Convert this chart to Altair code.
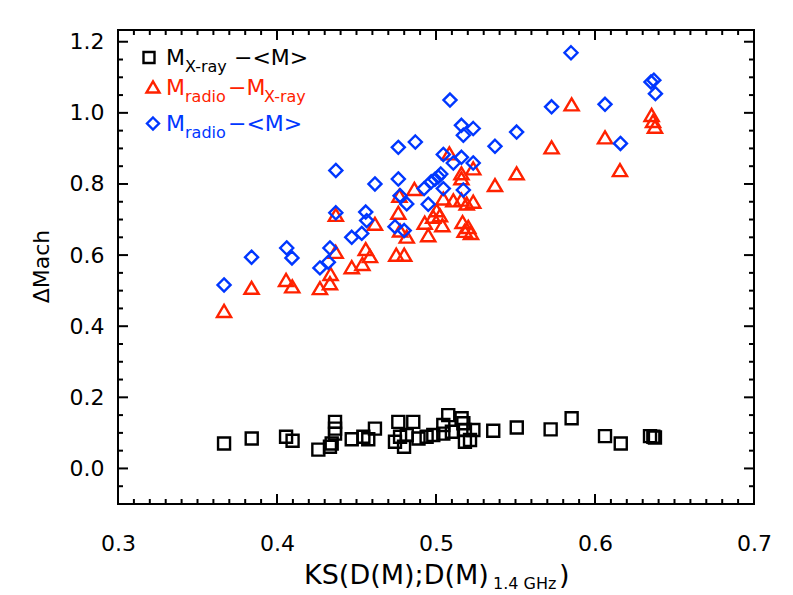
import altair as alt
import pandas as pd

# ---------------- data ----------------
sq_x = [0.3667, 0.3841, 0.4057, 0.4098, 0.4260, 0.4333, 0.4344, 0.4365, 0.4365, 0.4365,
        0.4470, 0.4543, 0.4574, 0.4616, 0.4742, 0.4763, 0.4774, 0.4799, 0.4816, 0.4857,
        0.4890, 0.4941, 0.4983, 0.5046, 0.5046, 0.5077, 0.5100, 0.5161, 0.5172, 0.5182,
        0.5214, 0.5235, 0.5182, 0.5360, 0.5508, 0.5721, 0.5853, 0.6063, 0.6162, 0.6346,
        0.6367, 0.6377]
sq_y = [0.070, 0.084, 0.089, 0.078, 0.053, 0.061, 0.070, 0.131, 0.112, 0.098,
        0.082, 0.089, 0.082, 0.112, 0.075, 0.131, 0.089, 0.061, 0.094, 0.131,
        0.084, 0.089, 0.094, 0.098, 0.122, 0.150, 0.103, 0.141, 0.127, 0.108,
        0.080, 0.108, 0.075, 0.106, 0.115, 0.110, 0.141, 0.091, 0.070, 0.091,
        0.089, 0.087]

tri_x = [0.3667, 0.3840, 0.4057, 0.4096, 0.4270, 0.4333, 0.4337, 0.4370, 0.4369, 0.4470,
         0.4537, 0.4558, 0.4585, 0.4616, 0.4750, 0.4800, 0.4763, 0.4770, 0.4774, 0.4816,
         0.4864, 0.5853, 0.6356, 0.6365, 0.6377, 0.6063, 0.6157, 0.5727, 0.5507, 0.5371,
         0.5084, 0.5234, 0.5160, 0.5160, 0.5046, 0.5109, 0.5160, 0.5193, 0.5234, 0.5004,
         0.5025, 0.4982, 0.4929, 0.5040, 0.5167, 0.5203, 0.4951, 0.5180, 0.5220]
tri_y = [0.443, 0.508, 0.530, 0.512, 0.507, 0.521, 0.547, 0.713, 0.609, 0.566,
         0.575, 0.617, 0.597, 0.688, 0.601, 0.601, 0.719, 0.767, 0.669, 0.652,
         0.786, 1.024, 0.994, 0.977, 0.961, 0.931, 0.839, 0.903, 0.830, 0.797,
         0.886, 0.844, 0.830, 0.816, 0.759, 0.754, 0.756, 0.745, 0.750, 0.726,
         0.712, 0.708, 0.691, 0.684, 0.693, 0.679, 0.656, 0.668, 0.662]

dia_x = [0.3667, 0.3840, 0.4061, 0.4094, 0.4270, 0.4323, 0.4333, 0.4370, 0.4370, 0.4470,
         0.4533, 0.4558, 0.4564, 0.4616, 0.4742, 0.4763, 0.4774, 0.4800, 0.4816, 0.5849,
         0.6352, 0.6370, 0.6380, 0.5727, 0.6063, 0.6160, 0.5507, 0.5371, 0.5088, 0.5160,
         0.5234, 0.5172, 0.5046, 0.5160, 0.5109, 0.5234, 0.4970, 0.4993, 0.5014, 0.5030,
         0.4925, 0.5046, 0.5172, 0.4951, 0.4870, 0.4763]
dia_y = [0.516, 0.594, 0.620, 0.592, 0.564, 0.580, 0.620, 0.838, 0.719, 0.650,
         0.661, 0.721, 0.697, 0.800, 0.680, 0.814, 0.767, 0.669, 0.744, 1.169,
         1.087, 1.092, 1.054, 1.017, 1.024, 0.914, 0.946, 0.906, 1.036, 0.965,
         0.956, 0.937, 0.883, 0.875, 0.859, 0.859, 0.806, 0.813, 0.820, 0.828,
         0.787, 0.787, 0.783, 0.743, 0.918, 0.903]

x_major = [0.3, 0.4, 0.5, 0.6, 0.7]
x_minor = [round(0.3 + 0.01 * i, 2) for i in range(1, 40) if i % 10 != 0]
y_major = [0.0, 0.2, 0.4, 0.6, 0.8, 1.0, 1.2]
y_minor = [-0.05, 0.05, 0.1, 0.15, 0.25, 0.3, 0.35, 0.45, 0.5, 0.55, 0.65, 0.7, 0.75,
           0.85, 0.9, 0.95, 1.05, 1.1, 1.15]

# ---------------- styling ----------------
W, H = 636, 474
FONT = "DejaVu Sans"
RED = "#FF2200"
BLUE = "#0037FF"
SQ = "M-1,-1L1,-1L1,1L-1,1Z"
TRI = "M-1,0.85L1,0.85L0,-0.85Z"
DIA = "M0,-1L1,0L0,1L-1,0Z"

xscale = alt.Scale(domain=[0.3, 0.7], nice=False, zero=False)
yscale = alt.Scale(domain=[-0.1, 1.233], nice=False, zero=False)

x_axis = alt.Axis(values=x_major, format=".1f", ticks=False, tickSize=0, domain=False,
                  grid=False, labelFont=FONT, labelFontSize=22, labelColor="black",
                  labelPadding=29, labelFlush=False, title=None)
y_axis = alt.Axis(values=y_major, format=".1f", ticks=False, tickSize=0, domain=False,
                  grid=False, labelFont=FONT, labelFontSize=22, labelColor="black",
                  labelPadding=14, title="ΔMach", titleFont=FONT, titleFontSize=22,
                  titleFontWeight="normal", titleColor="black", titleX=-77, titleY=236,
                  titleAngle=270, titleAlign="center", titleBaseline="middle")

X = lambda f: alt.X(f, scale=xscale, axis=x_axis)
Y = lambda f: alt.Y(f, scale=yscale, axis=y_axis)


def series(xs, ys, shape, color, size):
    df = pd.DataFrame({"x": xs, "y": ys})
    return alt.Chart(df).mark_point(shape=shape, filled=False, color=color,
                                    strokeWidth=2.4, size=size, opacity=1).encode(
        x=X("x:Q"), y=Y("y:Q"))


def xticks(vals, length, top):
    df = pd.DataFrame({"x": vals})
    y, y2 = (alt.value(0), alt.value(length)) if top else (alt.value(H), alt.value(H - length))
    return alt.Chart(df).mark_rule(color="black", strokeWidth=2).encode(
        x=X("x:Q"), y=y, y2=y2)


def yticks(vals, length, right):
    df = pd.DataFrame({"y": vals})
    x, x2 = (alt.value(W), alt.value(W - length)) if right else (alt.value(0), alt.value(length))
    return alt.Chart(df).mark_rule(color="black", strokeWidth=2).encode(
        y=Y("y:Q"), x=x, x2=x2)


one = pd.DataFrame({"a": [0]})


def txt(s, x, y, size, color="black"):
    return alt.Chart(one).mark_text(text=s, font=FONT, fontSize=size, color=color,
                                    align="left", baseline="alphabetic").encode(
        x=alt.value(x), y=alt.value(y))


def sym(shape, color, size, x, y):
    return alt.Chart(one).mark_point(shape=shape, filled=False, color=color,
                                     strokeWidth=2.4, size=size, opacity=1).encode(
        x=alt.value(x), y=alt.value(y))


OX, OY = 118, 30  # plot origin in page pixels (for annotation placement)

layers = [
    series(sq_x, sq_y, SQ, "black", 144),
    series(tri_x, tri_y, TRI, RED, 200),
    series(dia_x, dia_y, DIA, BLUE, 170),
    xticks(x_major, 10, False), xticks(x_major, 10, True),
    xticks(x_minor, 5, False), xticks(x_minor, 5, True),
    yticks(y_major, 10, False), yticks(y_major, 10, True),
    yticks(y_minor, 5, False), yticks(y_minor, 5, True),
    # legend
    sym(SQ, "black", 121, 149 - OX, 57.5 - OY),
    txt("M", 166 - OX, 65 - OY, 22),
    txt("X-ray", 185 - OX, 72 - OY, 16),
    txt("−<M>", 234 - OX, 65 - OY, 22),
    sym(TRI, RED, 170, 153 - OX, 87 - OY),
    txt("M", 166 - OX, 94.5 - OY, 22, RED),
    txt("radio", 185 - OX, 101.5 - OY, 16, RED),
    txt("−M", 228 - OX, 94.5 - OY, 22, RED),
    txt("X-ray", 264 - OX, 101.5 - OY, 16, RED),
    sym(DIA, BLUE, 144, 153 - OX, 123.5 - OY),
    txt("M", 166 - OX, 131 - OY, 22, BLUE),
    txt("radio", 185 - OX, 138 - OY, 16, BLUE),
    txt("−<M>", 228 - OX, 131 - OY, 22, BLUE),
    # x-axis title with subscript
    txt("KS(D(M);D(M)", 304 - OX, 584 - OY, 27),
    txt("1.4 GHz", 493 - OX, 589 - OY, 16),
    txt(")", 559 - OX, 584 - OY, 27),
]

chart = alt.layer(*layers).properties(
    width=W, height=H,
    autosize=alt.AutoSizeParams(type="none"),
    padding={"left": 110, "top": 22, "right": 30, "bottom": 91},
    background="white",
).configure_view(stroke="black", strokeWidth=2)

chart.save("out.html", embed_options={"renderer": "svg", "actions": False})
